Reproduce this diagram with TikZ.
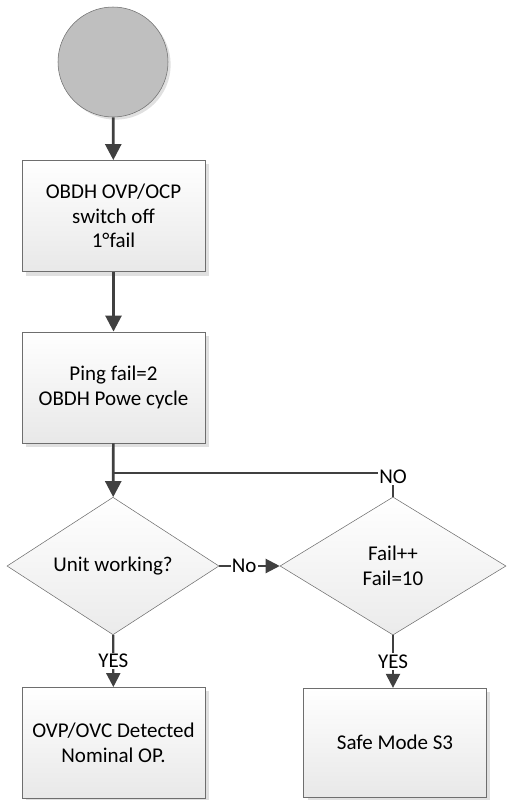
\documentclass[tikz,border=0pt]{standalone}
\usepackage{fontspec}
\setmainfont{Carlito}
\usetikzlibrary{positioning, shapes.geometric, arrows.meta, shadows}
\definecolor{linegray}{HTML}{404040}
\definecolor{edgegray}{HTML}{6E6E6E}
\tikzset{
  startdot/.style={circle, draw=edgegray, fill=black!25, minimum size=82.5pt, inner sep=0pt,
    drop shadow={shadow xshift=2pt, shadow yshift=-2pt, fill=black!12, opacity=1}},
  procbox/.style={rectangle, draw=edgegray, top color=white, bottom color=black!9,
    minimum width=137pt, minimum height=83.5pt, align=center, inner sep=2pt,
    drop shadow={shadow xshift=3pt, shadow yshift=-3pt, fill=black!12, opacity=1}},
  decision/.style={diamond, draw=edgegray, top color=white, bottom color=black!8, inner sep=0pt, align=center},
  bigarrow/.style={draw=linegray, line width=2pt, -{Triangle[length=12pt, width=12pt]}},
  smallarrow/.style={draw=linegray, line width=1.6pt, -{Triangle[length=10.5pt, width=10.5pt]}},
  plainline/.style={draw=linegray, line width=1.6pt},
  lbl/.style={fill=white, inner sep=1pt}
}
\begin{document}
\begin{tikzpicture}[x=0.75pt, y=-0.75pt, font=\fontsize{15.75pt}{18.4pt}\selectfont]
    \useasboundingbox (0,0) rectangle (507,800);

    \node [startdot] (start) at (113, 62) {};
    \node [procbox] (off) at (113.5, 216) {OBDH OVP/OCP\\switch off\\1°fail};
    \node [procbox] (ping) at (113.5, 387.5) {Ping fail=2\\OBDH Powe cycle};
    \coordinate (join) at (113, 473);
    \node [decision, minimum width=159pt, minimum height=96pt] (unit) at (113, 566) {Unit working?};
    \node [decision, minimum width=169.5pt, minimum height=103.5pt] (fail) at (393, 566) {Fail++\\Fail=10};
    \node [procbox] (nominal) at (113.5, 743) {OVP/OVC Detected\\Nominal OP.};
    \node [procbox, minimum height=81.5pt] (safe) at (395, 742.5) {Safe Mode S3};

    \draw [bigarrow] (start) -- (off);
    \draw [bigarrow] (off) -- (ping);
    \draw [bigarrow] (ping) -- (unit);
    \draw [plainline] (fail.north) -- (fail.north |- join) node [lbl, yshift=-3pt] {NO} -- (join);
    \draw [smallarrow] (unit) -- (fail) node [midway, lbl, xshift=-4pt] {No};
    \draw [smallarrow] (unit) -- (nominal) node [midway, lbl] {YES};
    \draw [smallarrow] (fail.south) -- (fail.south |- safe.north) node [midway, lbl] {YES};
\end{tikzpicture}
\end{document}
